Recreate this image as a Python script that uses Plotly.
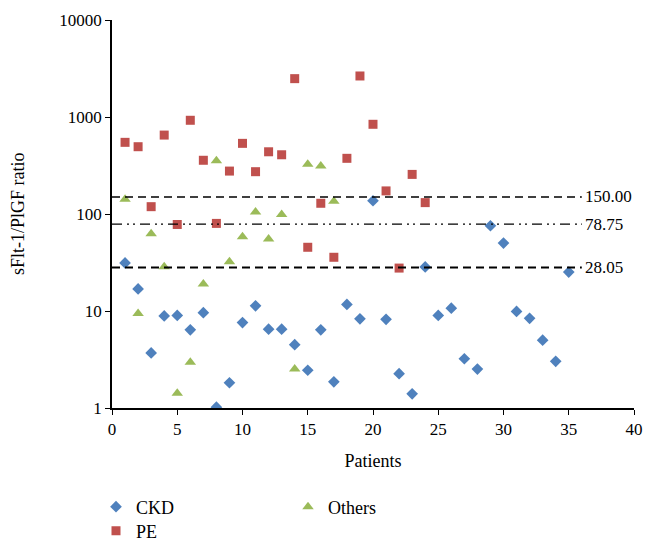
import math
import plotly.graph_objects as go

patients_ckd = list(range(1, 36))
ckd = [31.3, 16.9, 3.7, 8.9, 9.0, 6.4, 9.6, 1.02, 1.82, 7.6,
       11.3, 6.5, 6.5, 4.5, 2.45, 6.4, 1.86, 11.7, 8.3, 137,
       8.2, 2.26, 1.40, 28.5, 9.0, 10.7, 3.22, 2.52, 75.7, 50.2,
       9.9, 8.4, 5.0, 3.03, 25.2]

patients_pe = list(range(1, 25))
pe = [548, 494, 119, 651, 78, 925, 358, 80, 277, 535,
      273, 438, 408, 2485, 45.4, 129, 35.8, 375, 2648, 841,
      173, 27.7, 256, 131]

patients_others = list(range(1, 18))
others = [142, 9.4, 62.7, 28.6, 1.42, 2.96, 19.0, 355, 32.2, 58.4,
          105, 55.2, 99, 2.52, 325, 313, 135]

cutoffs = [150.00, 78.75, 28.05]
cutoff_labels = ["150.00", "78.75", "28.05"]
cutoff_dash = ["8px,5px", "10px,5px,2px,4px,2px,5px", "8px,5px"]
cutoff_width = [1.5, 1.2, 2.0]
line_span = [0, 36]

FONT = "Liberation Serif, Times New Roman, serif"
W, H = 656, 544
L, R, T, B = 104, 30, 12, 144
PW = W - L - R

fig = go.Figure()

fig.add_trace(go.Scatter(x=patients_ckd, y=ckd, mode="markers", name="CKD",
                         marker=dict(symbol="diamond", size=9, color="#4F81BD"),
                         legend="legend"))
fig.add_trace(go.Scatter(x=patients_pe, y=pe, mode="markers", name="PE",
                         marker=dict(symbol="square", size=9, color="#C0504D"),
                         legend="legend3"))
fig.add_trace(go.Scatter(x=patients_others, y=others, mode="markers", name="Others",
                         marker=dict(symbol="triangle-up", size=10, color="#9BBB59"),
                         legend="legend2"))

for v, lab, d, w in zip(cutoffs, cutoff_labels, cutoff_dash, cutoff_width):
    fig.add_trace(go.Scatter(x=line_span, y=[v, v], mode="lines", showlegend=False,
                             line=dict(color="black", width=w, dash=d), hoverinfo="skip"))
    fig.add_annotation(x=line_span[1], y=math.log10(v), yref="y", xref="x", text=lab,
                       showarrow=False, xanchor="left", yanchor="middle", xshift=1,
                       font=dict(family=FONT, size=17, color="black"))

# y-axis title
fig.add_annotation(x=(10 - L) / PW, y=0.5, xref="paper", yref="paper",
                   text="sFlt-1/PlGF ratio", textangle=-90, showarrow=False,
                   xanchor="center", yanchor="middle",
                   font=dict(family=FONT, size=18, color="black"))

def leg(xpx, ypx):
    return dict(x=xpx / W, y=1 - ypx / H, xref="container", yref="container",
                xanchor="left", yanchor="middle", orientation="v", itemwidth=30,
                font=dict(family=FONT, size=18), bgcolor="rgba(0,0,0,0)")

fig.update_layout(
    width=W, height=H,
    margin=dict(l=L, r=R, t=T, b=B, autoexpand=False),
    paper_bgcolor="white", plot_bgcolor="white",
    font=dict(family=FONT, size=17, color="black"),
    legend=leg(88, 499),
    legend2=leg(280, 499),
    legend3=leg(88, 523),
)

fig.update_xaxes(range=[0, 40], tickmode="array", tickvals=list(range(0, 41, 5)),
                 showline=True, linecolor="black", linewidth=1.5,
                 ticks="outside", ticklen=5, tickcolor="black",
                 showgrid=False, zeroline=False,
                 title=dict(text="Patients", font=dict(family=FONT, size=18), standoff=16),
                 tickfont=dict(family=FONT, size=17))
fig.update_yaxes(type="log", range=[0, 4], tickmode="array",
                 tickvals=[1, 10, 100, 1000, 10000],
                 ticktext=["1", "10", "100", "1000", "10000"],
                 showline=True, linecolor="black", linewidth=1.5,
                 ticks="outside", ticklen=5, tickcolor="black",
                 showgrid=False, zeroline=False,
                 tickfont=dict(family=FONT, size=17))

fig.write_html("out.html")
